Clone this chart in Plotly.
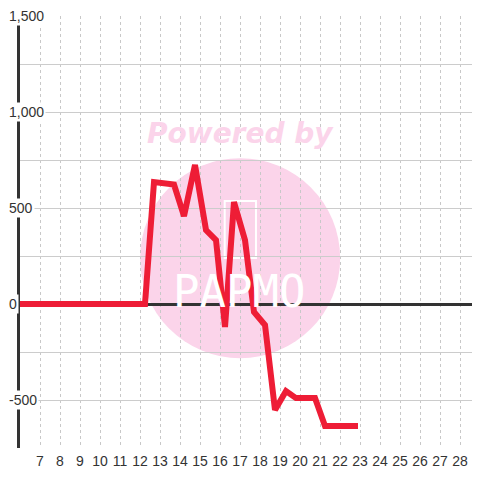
import plotly.graph_objects as go

# series (x = day, y = value)
days = [6, 12.25, 12.7, 13.2, 13.7, 14.2, 14.75, 15.3, 15.8, 16.25, 16.7,
        17.25, 17.7, 18.25, 18.75, 19.3, 19.8, 20.75, 21.25, 22.9]
values = [0, 0, 635, 628, 622, 458, 724, 385, 333, -120, 531,
          333, -42, -109, -552, -453, -490, -490, -635, -635]

x_ticks = list(range(7, 29))
y_label_vals = [1500, 1000, 500, 0, -500]
y_label_text = ["1,500", "1,000", "500", "0", "-500"]

RED = "#ee1d36"
GRID = "#cccccc"
AXIS = "#333333"
PINK = "#fbd4ea"
FONT = "Liberation Sans, Arial, sans-serif"

fig = go.Figure(
    go.Scatter(
        x=days,
        y=values,
        mode="lines",
        line=dict(color=RED, width=6),
        hoverinfo="skip",
    )
)

# watermark
fig.add_shape(type="circle", xref="paper", yref="paper",
              x0=0.261, x1=0.696, y0=0.208, y1=0.671,
              fillcolor=PINK, line_width=0, layer="below")
fig.add_shape(type="rect", xref="paper", yref="paper",
              x0=0.445, x1=0.513, y0=0.44, y1=0.572,
              line=dict(color="white", width=2), layer="below")
fig.add_annotation(text="<b><i>Powered by</i></b>", xref="paper", yref="paper",
                   x=0.48, y=0.729, xanchor="center", yanchor="middle",
                   showarrow=False,
                   font=dict(family="DejaVu Sans", size=28, color=PINK))
fig.add_annotation(text="PAPMO", xref="paper", yref="paper",
                   x=0.476, y=0.363, xanchor="center", yanchor="middle",
                   showarrow=False,
                   font=dict(family="DejaVu Sans Mono", size=44, color="white"))

# y tick labels sitting over the axis line
for v, t in zip(y_label_vals, y_label_text):
    fig.add_annotation(
        text=t, xref="paper", yref="y", x=0, y=v,
        xanchor="left", yanchor="middle", xshift=-13,
        showarrow=False, bgcolor="white", borderpad=1,
        font=dict(family=FONT, size=14, color=AXIS),
    )

# page body has an 8px margin, so the figure is 472 wide/high
fig.update_layout(
    width=472,
    height=472,
    margin=dict(l=12, r=0, t=8, b=32),
    paper_bgcolor="white",
    plot_bgcolor="white",
    showlegend=False,
    font=dict(family=FONT, size=14, color=AXIS),
    xaxis=dict(
        range=[6, 29],
        tickvals=x_ticks,
        ticktext=[str(t) for t in x_ticks],
        showgrid=True,
        gridcolor="#c8c8c8",
        griddash="3px,3px",
        gridwidth=1,
        zeroline=False,
        showline=False,
        ticks="",
        ticklabelstandoff=3,
        tickfont=dict(family=FONT, size=14, color=AXIS),
    ),
    yaxis=dict(
        range=[-750, 1500],
        dtick=250,
        showgrid=True,
        gridcolor=GRID,
        gridwidth=1,
        zeroline=True,
        zerolinecolor=AXIS,
        zerolinewidth=3,
        showline=True,
        linecolor=AXIS,
        linewidth=3,
        layer="below traces",
        showticklabels=False,
        ticks="",
    ),
)

fig.write_html("out.html")
